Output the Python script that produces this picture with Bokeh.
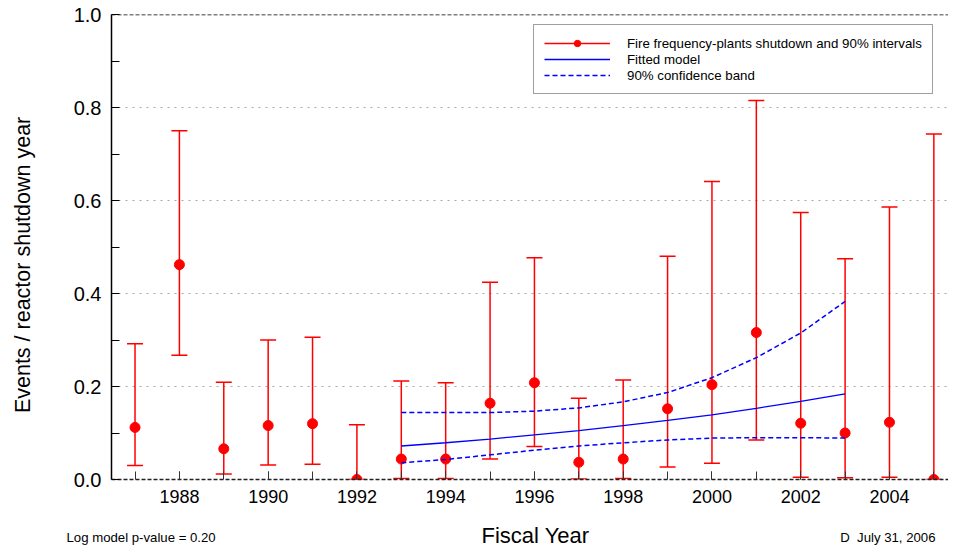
from bokeh.plotting import figure
from bokeh.layouts import column, row
from bokeh.models import (ColumnDataSource, FixedTicker, PrintfTickFormatter, Span,
                          Legend, LegendItem, Range1d)
from bokeh.core.properties import value
from bokeh.embed import file_html
from bokeh.resources import INLINE

years = list(range(1987, 2006))
rate = [0.112, 0.462, 0.066, 0.116, 0.120, 0.0, 0.044, 0.044, 0.164, 0.208,
        0.037, 0.044, 0.152, 0.204, 0.316, 0.121, 0.100, 0.123, 0.0]
upper = [0.292, 0.750, 0.209, 0.300, 0.306, 0.118, 0.212, 0.208, 0.424, 0.477,
         0.175, 0.214, 0.480, 0.641, 0.815, 0.574, 0.475, 0.586, 0.743]
lower = [0.030, 0.267, 0.012, 0.031, 0.033, 0.0, 0.002, 0.002, 0.044, 0.071,
         0.001, 0.002, 0.027, 0.035, 0.085, 0.005, 0.004, 0.005, 0.0]

fit_years = list(range(1993, 2004))
fit = [0.072, 0.079, 0.087, 0.096, 0.105, 0.116, 0.127, 0.139, 0.153, 0.168, 0.184]
band_hi = [0.144, 0.144, 0.144, 0.147, 0.154, 0.167, 0.187, 0.219, 0.262, 0.315, 0.383]
band_lo = [0.036, 0.043, 0.053, 0.063, 0.072, 0.079, 0.085, 0.089, 0.090, 0.090, 0.089]

x_major = [1988, 1990, 1992, 1994, 1996, 1998, 2000, 2002, 2004]
y_major = [0.0, 0.2, 0.4, 0.6, 0.8, 1.0]
y_minor = [0.1, 0.3, 0.5, 0.7, 0.9]

x_title = "Fiscal Year"
y_title = "Events / reactor shutdown year"
note_left = "Log model p-value = 0.20"
note_right = "D\u00a0\u00a0July 31, 2006"

FONT = "Liberation Sans"

p = figure(width=948, height=512, output_backend="svg", toolbar_location=None,
           x_range=Range1d(1986.47, 2005.33), y_range=Range1d(0, 1.0),
           min_border_left=111, min_border_right=0, min_border_top=14,
           min_border_bottom=33)
p.outline_line_color = None
p.background_fill_color = "white"
p.xgrid.visible = False
p.ygrid.ticker = FixedTicker(ticks=[0.2, 0.4, 0.6, 0.8])
p.ygrid.grid_line_color = "#a8a8a8"
p.ygrid.grid_line_dash = "2 5"
p.ygrid.grid_line_width = 1.2

xa = p.xaxis[0]
xa.ticker = FixedTicker(ticks=x_major, minor_ticks=years)
xa.major_tick_in = 8
xa.major_tick_out = 0
xa.minor_tick_in = 8
xa.minor_tick_out = 0
xa.major_tick_line_color = "#333333"
xa.minor_tick_line_color = "#333333"
xa.axis_line_color = "#222222"
xa.axis_line_dash = "4 2"
xa.axis_line_width = 1.5
xa.major_label_text_font = FONT
xa.major_label_text_font_size = "18px"
xa.major_label_text_color = "black"
xa.major_label_standoff = 10

ya = p.yaxis[0]
ya.ticker = FixedTicker(ticks=y_major, minor_ticks=y_minor)
ya.formatter = PrintfTickFormatter(format="%.1f")
ya.major_tick_in = 8
ya.major_tick_out = 0
ya.minor_tick_in = 8
ya.minor_tick_out = 0
ya.axis_line_color = "black"
ya.axis_line_width = 1.5
ya.major_tick_line_color = "black"
ya.minor_tick_line_color = "black"
ya.major_label_text_font = FONT
ya.major_label_text_font_size = "20px"
ya.major_label_text_color = "black"
ya.major_label_standoff = 10
ya.axis_label = y_title + "\u00a0" * 6
ya.axis_label_text_font = FONT
ya.axis_label_text_font_size = "21.5px"
ya.axis_label_text_font_style = "normal"
ya.axis_label_text_color = "black"
ya.axis_label_standoff = 36

p.add_layout(Span(location=1.0, dimension="width", line_color="black",
                  line_dash="4 2", line_width=1.5))

src = ColumnDataSource(dict(x=years, y=rate, up=upper, lo=lower))
bars = p.segment(x0="x", y0="lo", x1="x", y1="up", source=src,
                 line_color="red", line_width=1.5)
p.scatter(x="x", y="up", source=src, marker="dash", size=16,
          line_color="red", line_width=1.5)
p.scatter(x="x", y="lo", source=src, marker="dash", size=16,
          line_color="red", line_width=1.5)
pts = p.scatter(x="x", y="y", source=src, size=10, fill_color="red",
                line_color="red")

fsrc = ColumnDataSource(dict(x=fit_years, fit=fit, hi=band_hi, lo=band_lo))
fl = p.line(x="x", y="fit", source=fsrc, line_color="blue", line_width=1.3)
bh = p.line(x="x", y="hi", source=fsrc, line_color="blue", line_width=1.5,
            line_dash="5 3")
bl = p.line(x="x", y="lo", source=fsrc, line_color="blue", line_width=1.5,
            line_dash="5 3")

legend = Legend(items=[
    LegendItem(label="Fire frequency-plants shutdown and 90% intervals",
               renderers=[bars, pts]),
    LegendItem(label="Fitted model", renderers=[fl]),
    LegendItem(label="90% confidence band", renderers=[bh]),
], location=(422, 385))
legend.label_text_font = FONT
legend.label_text_font_size = "13.3px"
legend.label_text_color = "black"
legend.label_height = 16
legend.glyph_height = 16
legend.glyph_width = 66
legend.label_standoff = 17
legend.spacing = 0
legend.padding = 10
legend.margin = 0
legend.border_line_color = "#404040"
legend.border_line_width = 1.5
legend.background_fill_alpha = 1.0
p.add_layout(legend, "center")

# bottom strip holding the x title and the footnotes (pixel coordinates)
strip = figure(width=948, height=36, output_backend="svg", toolbar_location=None,
               x_range=Range1d(0, 948), y_range=Range1d(36, 0),
               x_axis_location=None, y_axis_location=None,
               min_border_left=0, min_border_right=0, min_border_top=0,
               min_border_bottom=0)
strip.outline_line_color = None
strip.grid.visible = False
strip.text(x=[535], y=[23], text=[x_title], text_font=value(FONT),
           text_font_size="22px", text_align="center", text_baseline="middle",
           text_color="black")
strip.text(x=[66], y=[25], text=[note_left], text_font=value(FONT),
           text_font_size="13.2px", text_align="left", text_baseline="middle",
           text_color="black")
strip.text(x=[935], y=[25], text=[note_right], text_font=value(FONT),
           text_font_size="13.2px", text_align="right", text_baseline="middle",
           text_color="black")

layout = column(p, row(strip, spacing=0), spacing=0)
open("out.html", "w").write(file_html(layout, INLINE))
